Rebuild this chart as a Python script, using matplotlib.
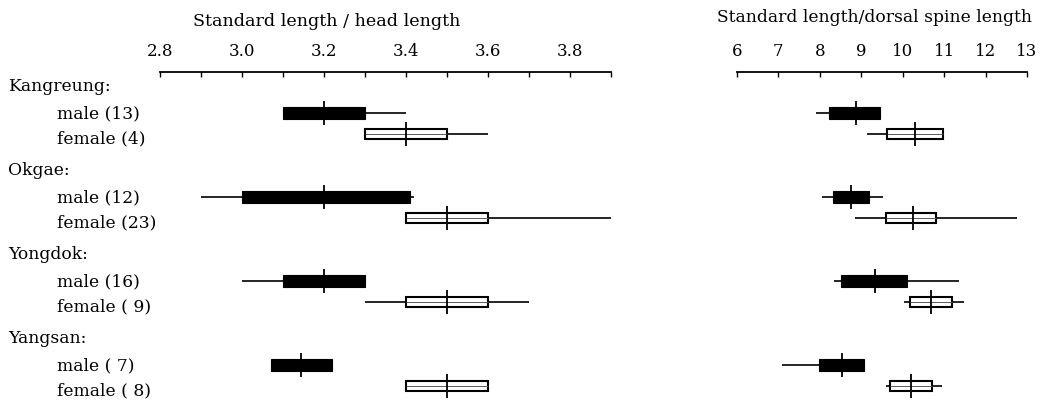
import numpy as np
import matplotlib
matplotlib.use('Agg')
import matplotlib.pyplot as plt
from matplotlib.transforms import blended_transform_factory

plt.rcParams['font.family'] = 'DejaVu Serif'

# Localities and sample labels
groups = ['Kangreung:', 'Okgae:', 'Yongdok:', 'Yangsan:']
male_labels = ['male (13)', 'male (12)', 'male (16)', 'male ( 7)']
female_labels = ['female (4)', 'female (23)', 'female ( 9)', 'female ( 8)']

# Standard length / head length : min, box low, mean, box high, max
head_m_min = [3.10, 2.90, 3.00, 3.07]
head_m_lo = [3.10, 3.00, 3.10, 3.07]
head_m_mean = [3.20, 3.20, 3.20, 3.145]
head_m_hi = [3.30, 3.41, 3.30, 3.22]
head_m_max = [3.40, 3.42, 3.30, 3.22]

head_f_min = [3.30, 3.40, 3.30, 3.40]
head_f_lo = [3.30, 3.40, 3.40, 3.40]
head_f_mean = [3.40, 3.50, 3.50, 3.50]
head_f_hi = [3.50, 3.60, 3.60, 3.60]
head_f_max = [3.60, 3.90, 3.70, 3.60]

# Standard length / dorsal spine length
spine_m_min = [7.91, 8.04, 8.33, 7.09]
spine_m_lo = [8.23, 8.31, 8.51, 7.97]
spine_m_mean = [8.87, 8.76, 9.34, 8.53]
spine_m_hi = [9.46, 9.18, 10.10, 9.06]
spine_m_max = [9.46, 9.52, 11.37, 9.06]

spine_f_min = [9.14, 8.86, 10.02, 9.60]
spine_f_lo = [9.62, 9.60, 10.18, 9.70]
spine_f_mean = [10.30, 10.24, 10.68, 10.20]
spine_f_hi = [10.97, 10.80, 11.19, 10.70]
spine_f_max = [10.97, 12.77, 11.47, 10.96]

head_ticks = [2.8, 2.9, 3.0, 3.1, 3.2, 3.3, 3.4, 3.5, 3.6, 3.7, 3.8, 3.9]
head_ticklabels = ['2.8', '', '3.0', '', '3.2', '', '3.4', '', '3.6', '', '3.8', '']
spine_ticks = [6, 7, 8, 9, 10, 11, 12, 13]

W, H = 1046, 401
fig = plt.figure(figsize=(W / 100, H / 100), dpi=100)

top = 1 - 72 / H
ax1 = fig.add_axes([160 / W, 0, 451 / W, top])
ax2 = fig.add_axes([737 / W, 0, 290 / W, top])

ypos = np.arange(len(groups))
off_f = 0.25      # female row below male row
box_h = 0.14
tick_h = 0.29


def draw(ax, m, f):
    m_min, m_lo, m_mean, m_hi, m_max = [np.array(v) for v in m]
    f_min, f_lo, f_mean, f_hi, f_max = [np.array(v) for v in f]
    ym = ypos
    yf = ypos + off_f
    # whiskers
    ax.hlines(ym, m_min, m_max, color='black', lw=1.2, zorder=1)
    ax.hlines(yf, f_min, f_max, color='black', lw=1.2, zorder=1)
    # males: solid boxes
    ax.barh(ym, m_hi - m_lo, left=m_lo, height=box_h, color='black',
            edgecolor='black', lw=0.8, zorder=2)
    # females: open boxes with a thin centre line
    ax.barh(yf, f_hi - f_lo, left=f_lo, height=box_h * 0.8, color='white',
            edgecolor='black', lw=1.5, zorder=2)
    ax.hlines(yf, f_lo, f_hi, color='0.35', lw=0.7, zorder=3)
    # means
    ax.vlines(m_mean, ym - tick_h / 2, ym + tick_h / 2, color='black', lw=1.3, zorder=4)
    ax.vlines(f_mean, yf - tick_h / 2, yf + tick_h / 2, color='black', lw=1.3, zorder=4)


draw(ax1, [head_m_min, head_m_lo, head_m_mean, head_m_hi, head_m_max],
     [head_f_min, head_f_lo, head_f_mean, head_f_hi, head_f_max])
draw(ax2, [spine_m_min, spine_m_lo, spine_m_mean, spine_m_hi, spine_m_max],
     [spine_f_min, spine_f_lo, spine_f_mean, spine_f_hi, spine_f_max])

for ax in (ax1, ax2):
    ax.set_ylim(3.43, -0.488)
    for s in ['left', 'right', 'bottom']:
        ax.spines[s].set_visible(False)
    ax.spines['top'].set_linewidth(1.3)
    ax.xaxis.tick_top()
    ax.tick_params(axis='x', direction='in', length=3.5, width=1,
                   labelsize=12, pad=9)
    ax.set_yticks([])
    ax.patch.set_alpha(0)

ax1.set_xlim(2.8, 3.9)
ax1.set_xticks(head_ticks)
ax1.set_xticklabels(head_ticklabels)
ax2.set_xlim(6, 13)
ax2.set_xticks(spine_ticks)

ax1.text(0.37, 1.0 + 50 / (top * H), 'Standard length / head length',
         transform=ax1.transAxes, ha='center', va='center', fontsize=12.6)
ax2.text(0.475, 1.0 + 54 / (top * H), 'Standard length/dorsal spine length',
         transform=ax2.transAxes, ha='center', va='center', fontsize=12.3)

# row labels on the left
tr = blended_transform_factory(fig.transFigure, ax1.transData)
for i in range(len(groups)):
    ax1.text(8 / W, ypos[i] - 0.31, groups[i], transform=tr,
             ha='left', va='center', fontsize=12.3)
    ax1.text(57 / W, ypos[i] + 0.01, male_labels[i], transform=tr,
             ha='left', va='center', fontsize=12.3)
    ax1.text(57 / W, ypos[i] + 0.31, female_labels[i], transform=tr,
             ha='left', va='center', fontsize=12.3)

fig.savefig('out.png', dpi=100)
